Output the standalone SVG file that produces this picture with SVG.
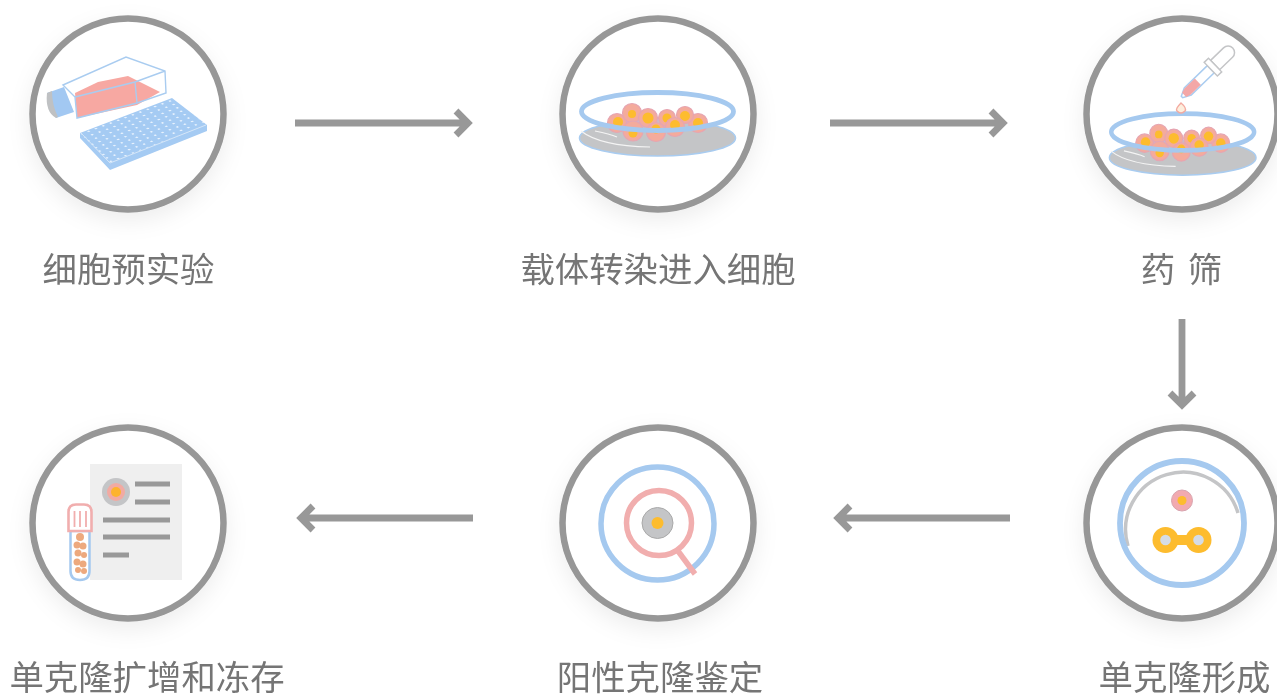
<svg xmlns="http://www.w3.org/2000/svg" width="1277" height="700" viewBox="0 0 1277 700">
<style>
.ring{fill:#fff;stroke:#979797;stroke-width:6.5;filter:url(#sh)}
.lab{font-family:"Noto Sans CJK SC","Liberation Sans",sans-serif;font-weight:400;font-size:34.4px;fill:#757575;text-anchor:middle;filter:url(#soft)}
.cell{fill:#f4ab9c;stroke:#e6a5b2;stroke-width:1.2}
.nuc{fill:#fdbc2e}
.arr{fill:none;stroke:#989898;stroke-width:6.8}
.blue{fill:none;stroke:#a5c9ef}
.rule{stroke:#999;stroke-width:5;fill:none}
.icon{filter:url(#soft)}
</style>
<defs>
<filter id="sh" x="-25%" y="-25%" width="150%" height="155%"><feDropShadow dx="0" dy="8" stdDeviation="11" flood-color="#000" flood-opacity=".07"/></filter>
<filter id="soft" x="-5%" y="-5%" width="110%" height="110%"><feGaussianBlur stdDeviation=".45"/></filter>
<pattern id="wells" patternUnits="userSpaceOnUse" width="1" height="1" patternTransform="matrix(7.4 -2.75 3.7 3.4 83 131)"><circle cx=".5" cy=".5" r=".15" fill="#f2f8ff"/></pattern>
<g id="dish">
<ellipse cx="657.500" cy="138" rx="78" ry="18" fill="#c4c5c7" stroke="#a9ccf0" stroke-width="1.6"/>
<path d="M581 131Q600 146 650 147M595 131Q610 134 617 137" fill="none" stroke="#f4f4f4" stroke-width="1.2"/>
<circle class="cell" cx="617" cy="123" r="9.500"/><circle class="nuc" cx="618" cy="122" r="5"/>
<circle class="cell" cx="632" cy="113" r="9.500"/><circle class="nuc" cx="632" cy="114" r="4"/>
<circle class="cell" cx="698" cy="123" r="9.500"/><circle class="nuc" cx="698" cy="123" r="5"/>
<circle class="cell" cx="685" cy="115" r="8.500"/><circle class="nuc" cx="685" cy="116" r="5"/>
<circle class="cell" cx="667" cy="118" r="8.500"/><circle class="nuc" cx="667" cy="118" r="4.500"/>
<circle class="cell" cx="648" cy="118" r="9.500"/><circle class="nuc" cx="648" cy="118" r="5.500"/>
<circle class="cell" cx="633" cy="131" r="10"/><circle class="nuc" cx="633" cy="133" r="4.500"/>
<circle class="cell" cx="656" cy="132" r="9.500"/><circle class="nuc" cx="656" cy="129" r="4.500"/>
<circle class="cell" cx="675" cy="127" r="9.500"/><circle class="nuc" cx="675" cy="125" r="5"/>
<ellipse class="blue" cx="657.500" cy="111.500" rx="76" ry="19" stroke-width="4.800"/>
</g>
</defs>

<g id="connectors">
<path class="arr" d="M295 123H466M456 111L468 123L456 135"/>
<path class="arr" d="M830 123H1001M991 111L1003 123L991 135"/>
<path class="arr" d="M1182 319V403M1170 393L1182 405L1194 393"/>
<path class="arr" d="M1010 518H840M850 506L838 518L850 530"/>
<path class="arr" d="M473 518H303M313 506L301 518L313 530"/>
</g>

<g id="node1">
<circle class="ring" cx="128" cy="114" r="95.500"/>
<g class="icon">
<path d="M75 93L98 82L128 76L160 92L137 105L77 118Z" fill="#f7a8a2"/>
<path d="M63 85L126 57L165 71L166 93L137 103L77 118L75 97ZM75 97L135 82L165 71M135 82L137 103" fill="none" stroke="#a9ccf0" stroke-width="1.400"/>
<path d="M47 93L64 87L74 112L56 118Z" fill="#a2c8f2"/>
<path d="M47 93Q45 112 56 118L58 117Q52 105 52 91Z" fill="#bfc1c3"/>
<path d="M80 133L172 98L207 125L207 131L110 170L80 138Z" fill="#a5cbf3"/>
<path d="M80 133L172 98L206 124L110 163Z" fill="url(#wells)"/>
<path d="M81 133L110 163L206 125" fill="none" stroke="#d5e6f8" stroke-width="1"/>
</g>
</g>

<g id="node2">
<circle class="ring" cx="658" cy="114" r="95.500"/>
<use class="icon" href="#dish"/>
</g>

<g id="node3">
<circle class="ring" cx="1182" cy="114" r="95.500"/>
<g class="icon">
<use href="#dish" transform="translate(1182.700 132) scale(.94 .97) translate(-657.500 -111.500)"/>
<path d="M1181 103Q1175 109 1177 111Q1181 115 1185 111Q1187 108 1181 103Z" fill="#fdeedd" stroke="#f3aaa0" stroke-width="1.400"/>
<g transform="translate(1182 97) rotate(-44)">
<path d="M0 -1L8 -5H40V5H8L0 1Z" fill="#fff" stroke="#a9ccf0" stroke-width="1.500"/>
<path d="M3 -3L8 -4.300H22V4.300H8L3 3Z" fill="#f3a7a7"/>
<path d="M46 -6.500H64A6.500 6.500 0 0 1 64 6.500H46Z" fill="#fff" stroke="#c4c5c7" stroke-width="1.500"/>
<path d="M40 -9.500H46V9.500H40Z" fill="#fff" stroke="#c4c5c7" stroke-width="1.500"/>
</g>
</g>
</g>

<g id="node4">
<circle class="ring" cx="1182" cy="523" r="95.500"/>
<g class="icon">
<path d="M1128 546A56 56 0 0 1 1238 513" fill="none" stroke="#c4c5c7" stroke-width="3.500"/>
<circle class="blue" cx="1182" cy="523" r="62" stroke-width="5.800"/>
<circle cx="1182" cy="500.500" r="10.500" fill="#f2aab0" stroke="#d7a3ae" stroke-width="1"/>
<circle class="nuc" cx="1182" cy="500.500" r="4.500"/>
<circle class="nuc" cx="1165.500" cy="540" r="13"/><circle class="nuc" cx="1198.500" cy="540" r="13"/>
<rect class="nuc" x="1165" y="535" width="34" height="10"/>
<circle cx="1165.500" cy="540" r="5.300" fill="#d5dce5"/><circle cx="1198.500" cy="540" r="5.300" fill="#d5dce5"/>
</g>
</g>

<g id="node5">
<circle class="ring" cx="658" cy="523" r="95.500"/>
<g class="icon">
<circle class="blue" cx="657.500" cy="523.500" r="56.500" stroke-width="5.500"/>
<circle cx="659" cy="523" r="32.500" fill="none" stroke="#f1aeae" stroke-width="5.500"/>
<path d="M678 551L695 574" stroke="#f1aeae" stroke-width="5.500"/>
<circle cx="657.500" cy="523" r="15.500" fill="#c4c5c7" stroke="#a9a9a9"/>
<circle class="nuc" cx="657.500" cy="523" r="6"/>
</g>
</g>

<g id="node6">
<circle class="ring" cx="128" cy="523" r="95.500"/>
<g class="icon">
<rect x="90" y="464" width="92" height="116" fill="#efefef"/>
<circle cx="116" cy="492" r="14" fill="#c4c5c7"/>
<circle cx="116" cy="492" r="9" fill="#f2aaa2"/>
<circle cx="116" cy="492" r="5" fill="#fdb32e"/>
<path class="rule" d="M135 484H170M135 502H170M103 520H170M103 537H170M103 555H129"/>
<path d="M70.500 531V571Q70.500 580 80 580Q89.500 580 89.500 571V531Z" fill="#fff" stroke="#a5c9ef" stroke-width="2.500"/>
<g fill="#eda97e"><circle cx="80" cy="537" r="4"/><circle cx="77" cy="545" r="3.500"/><circle cx="83" cy="546" r="3.500"/><circle cx="78" cy="553" r="3.500"/><circle cx="84" cy="555" r="3"/><circle cx="77" cy="562" r="3.500"/><circle cx="83" cy="564" r="3.500"/><circle cx="78" cy="570" r="3"/><circle cx="84" cy="571" r="3"/></g>
<path d="M68.500 531V512Q68.500 504.500 76 504.500H84Q91.500 504.500 91.500 512V531Z" fill="#fff" stroke="#f1aeae" stroke-width="2.600"/>
<path d="M74.500 511V527M80 511V527M86 511V527" stroke="#f1aeae" stroke-width="1.800"/>
</g>
</g>

<g id="labels">
<text class="lab" x="128.500" y="282">细胞预实验</text>
<text class="lab" x="658" y="282">载体转染进入细胞</text>
<text class="lab" x="1181.500" y="282" word-spacing="5">药 筛</text>
<text class="lab" x="1184.500" y="690">单克隆形成</text>
<text class="lab" x="660" y="690">阳性克隆鉴定</text>
<text class="lab" x="147" y="690">单克隆扩增和冻存</text>
</g>
</svg>
